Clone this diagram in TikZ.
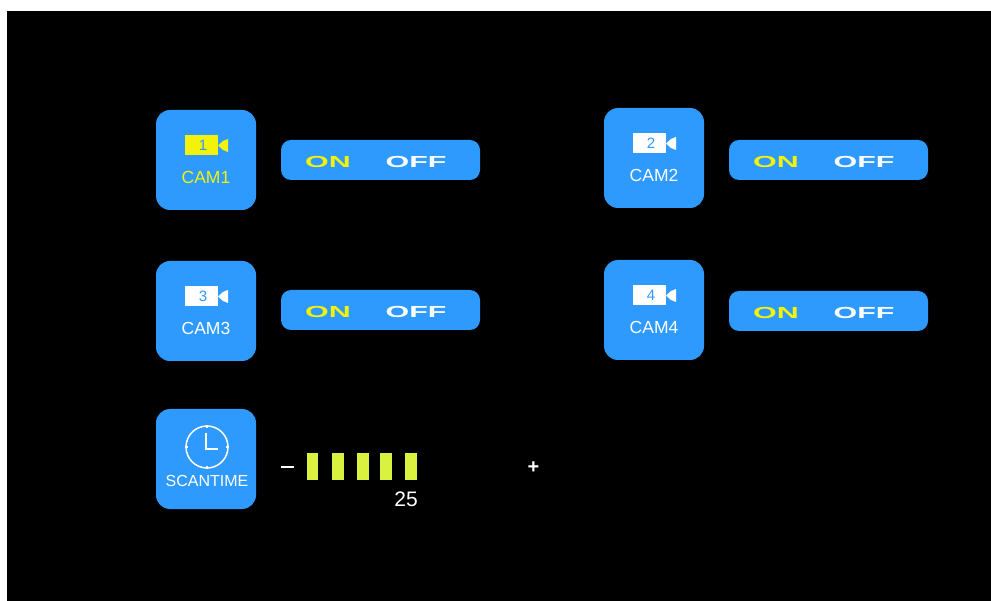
\documentclass[tikz,border=0pt]{standalone}
\usepackage{fontspec}
\setmainfont{Liberation Sans}
\definecolor{tileblue}{HTML}{2E9AFE}
\definecolor{onyellow}{HTML}{F2F20A}
\definecolor{bargreen}{HTML}{D9F23F}
\tikzset{
  tile/.style={fill=tileblue,draw=none,rounded corners=14pt,minimum width=100pt,minimum height=100pt,inner sep=0pt},
  switchbox/.style={fill=tileblue,draw=none,rounded corners=10pt,minimum width=199pt,minimum height=40pt,inner sep=0pt},
  camlabel/.style={inner sep=0pt,font=\fontsize{17.5}{18}\selectfont},
  swlabel/.style={inner sep=0pt,font=\fontsize{16}{16}\selectfont\bfseries,xscale=1.9},
  camnum/.style={inner sep=0pt,text=tileblue,font=\fontsize{15}{15}\selectfont},
  levelbar/.style={fill=bargreen,draw=none,minimum width=11.5pt,minimum height=27pt,inner sep=0pt},
  clockline/.style={draw=white,line width=1.5pt}
}
% #1 name, #2 tile cx, #3 tile cy, #4 number, #5 switch cx, #6 switch cy, #7 icon/label colour
\newcommand{\camunit}[7]{%
  \node[tile] (tile#1) at (#2,#3) {};
  \fill[#7] ($(tile#1.center)+(-21,-24.5)$) rectangle ($(tile#1.center)+(12,-4.5)$);
  \fill[#7] ($(tile#1.center)+(12,-14.5)$) -- ($(tile#1.center)+(17,-19)$) -- ($(tile#1.center)+(22,-21)$)
     -- ($(tile#1.center)+(22,-8)$) -- ($(tile#1.center)+(17,-10)$) -- cycle;
  \node[camnum] (num#1) at ($(tile#1.center)+(-3,-14.5)$) {#4};
  \node[camlabel,text=#7] (lab#1) at ($(tile#1.center)+(0,17.5)$) {CAM#4};
  \node[switchbox] (sw#1) at (#5,#6) {};
  \node[swlabel,text=onyellow] (on#1) at ($(sw#1.center)+(-52.5,2)$) {ON};
  \node[swlabel,text=white] (off#1) at ($(sw#1.center)+(35.5,2)$) {OFF};
}
\usetikzlibrary{calc}
\begin{document}
\begin{tikzpicture}[x=1pt,y=-1pt]
\useasboundingbox (0,0) rectangle (991,601);
\fill[white] (0,0) rectangle (991,601);
\fill[black] (7,11) rectangle (991,601);
\camunit{a}{206}{160}{1}{380.5}{160}{onyellow}
\camunit{b}{654}{158}{2}{828.5}{160}{white}
\camunit{c}{206}{311}{3}{380.5}{310}{white}
\camunit{d}{654}{310}{4}{828.5}{311}{white}
\node[tile] (scan) at (206,459) {};
\node[circle,clockline,minimum size=42pt,inner sep=0pt] (clock) at (207,447) {};
\draw[clockline] (clock.north) -- ++(0,3);
\draw[clockline] (clock.south) -- ++(0,-3);
\draw[clockline] (clock.east) -- ++(-3,0);
\draw[clockline] (clock.west) -- ++(3,0);
\draw[clockline] ($(clock.center)+(-1,-14)$) -- ($(clock.center)+(-1,2)$) -- ($(clock.center)+(11,2)$);
\node[inner sep=0pt,text=white,font=\fontsize{16}{16}\selectfont] (scanlab) at (207,481) {SCANTIME};
\node[inner sep=0pt,text=white,font=\fontsize{18}{18}\selectfont\bfseries] (minus) at (287.5,467) {\rule{13pt}{2.6pt}};
\node[levelbar] (b1) at (312.5,466.5) {};
\node[levelbar] (b2) at (338,466.5) {};
\node[levelbar] (b3) at (363,466.5) {};
\node[levelbar] (b4) at (386,466.5) {};
\node[levelbar] (b5) at (411,466.5) {};
\node[inner sep=0pt,text=white,font=\fontsize{21}{21}\selectfont] (val) at (406,499.5) {25};
\node[inner sep=0pt,text=white,font=\fontsize{20}{20}\selectfont\bfseries] (plus) at (533.5,468) {+};
\end{tikzpicture}
\end{document}
